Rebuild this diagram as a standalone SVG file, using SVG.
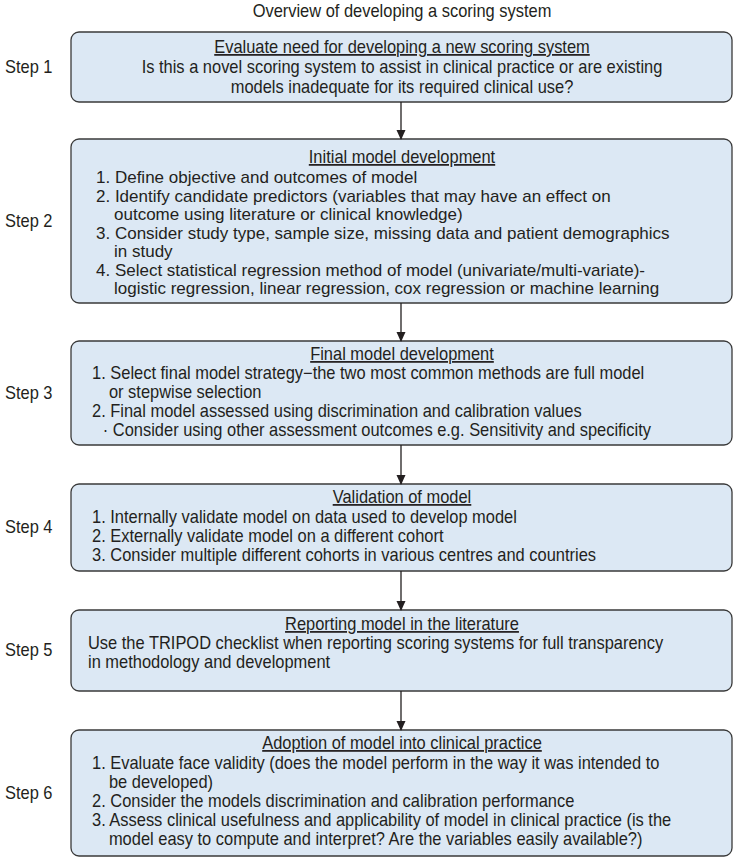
<svg xmlns="http://www.w3.org/2000/svg" width="735" height="860" viewBox="0 0 735 860">
<defs>
<style>
.box{fill:#dce8f4;stroke:#3a3a3a;stroke-width:1.3}
text{font-family:"Liberation Sans",Arial,sans-serif;font-size:17.5px;fill:#231f20}
.c{text-anchor:middle}
.h{text-decoration:underline}
.w{font-size:17px}
.conn{stroke:#231f20;stroke-width:1.3;fill:none}
</style>
<marker id="ah" markerWidth="10" markerHeight="11" refX="9" refY="5" orient="auto" markerUnits="userSpaceOnUse">
<path d="M0,0.5 L10,5 L0,9.5 Z" fill="#231f20"/>
</marker>
</defs>
<rect width="735" height="860" fill="#ffffff"/>
<g transform="matrix(0.94 0 0 1 24.12 0)">
<text class="c" x="402" y="17">Overview of developing a scoring system</text>
</g>

<g id="step1">
<rect class="box" x="71" y="32" width="661" height="70" rx="8"/>
<g transform="matrix(0.94 0 0 1 0.3 0)"><text x="5" y="73">Step 1</text></g>
<g transform="matrix(0.94 0 0 1 24.12 0)">
<text class="c h" x="402" y="53">Evaluate need for developing a new scoring system</text>
<text class="c" x="402" y="73">Is this a novel scoring system to assist in clinical practice or are existing</text>
<text class="c" x="402" y="93">models inadequate for its required clinical use?</text>
</g>
</g>

<g id="step2">
<rect class="box" x="71" y="139" width="661" height="164" rx="8"/>
<g transform="matrix(0.94 0 0 1 0.3 0)"><text x="5" y="227">Step 2</text></g>
<g transform="matrix(0.94 0 0 1 24.12 0)">
<text class="c h" x="402" y="163">Initial model development</text>
</g>
<text class="w" x="96" y="183">1. Define objective and outcomes of model</text>
<text class="w" x="96" y="202">2. Identify candidate predictors (variables that may have an effect on</text>
<text class="w" x="114" y="220">outcome using literature or clinical knowledge)</text>
<text class="w" x="96" y="239">3. Consider study type, sample size, missing data and patient demographics</text>
<text class="w" x="114" y="257">in study</text>
<text class="w" x="96" y="276">4. Select statistical regression method of model (univariate/multi-variate)-</text>
<text class="w" x="114" y="294">logistic regression, linear regression, cox regression or machine learning</text>
</g>

<g id="step3">
<rect class="box" x="71" y="341" width="661" height="104" rx="8"/>
<g transform="matrix(0.94 0 0 1 0.3 0)"><text x="5" y="399">Step 3</text></g>
<g transform="matrix(0.94 0 0 1 24.12 0)">
<text class="c h" x="402" y="360">Final model development</text>
</g>
<g transform="matrix(0.94 0 0 1 5.52 0)">
<text x="92" y="379">1. Select final model strategy−the two most common methods are full model</text>
<text x="110" y="398">or stepwise selection</text>
<text x="92" y="417">2. Final model assessed using discrimination and calibration values</text>
<text x="103.5" y="436">· Consider using other assessment outcomes e.g. Sensitivity and specificity</text>
</g>
</g>

<g id="step4">
<rect class="box" x="71" y="484" width="661" height="87" rx="8"/>
<g transform="matrix(0.94 0 0 1 0.3 0)"><text x="5" y="533">Step 4</text></g>
<g transform="matrix(0.94 0 0 1 24.12 0)">
<text class="c h" x="402" y="503">Validation of model</text>
</g>
<g transform="matrix(0.94 0 0 1 5.52 0)">
<text x="92" y="523">1. Internally validate model on data used to develop model</text>
<text x="92" y="542">2. Externally validate model on a different cohort</text>
<text x="92" y="561">3. Consider multiple different cohorts in various centres and countries</text>
</g>
</g>

<g id="step5">
<rect class="box" x="71" y="610" width="661" height="81" rx="8"/>
<g transform="matrix(0.94 0 0 1 0.3 0)"><text x="5" y="656">Step 5</text></g>
<g transform="matrix(0.94 0 0 1 24.12 0)">
<text class="c h" x="402" y="630">Reporting model in the literature</text>
</g>
<g transform="matrix(0.94 0 0 1 5.28 0)">
<text x="88" y="649">Use the TRIPOD checklist when reporting scoring systems for full transparency</text>
<text x="88" y="668">in methodology and development</text>
</g>
</g>

<g id="step6">
<rect class="box" x="71" y="730" width="661" height="126" rx="8"/>
<g transform="matrix(0.94 0 0 1 0.3 0)"><text x="5" y="799">Step 6</text></g>
<g transform="matrix(0.94 0 0 1 24.12 0)">
<text class="c h" x="402" y="749">Adoption of model into clinical practice</text>
</g>
<g transform="matrix(0.94 0 0 1 5.52 0)">
<text x="92" y="769">1. Evaluate face validity (does the model perform in the way it was intended to</text>
<text x="110" y="788">be developed)</text>
<text x="92" y="807">2. Consider the models discrimination and calibration performance</text>
<text x="92" y="826">3. Assess clinical usefulness and applicability of model in clinical practice (is the</text>
<text x="110" y="845">model easy to compute and interpret? Are the variables easily available?)</text>
</g>
</g>

<g id="connectors">
<line class="conn" x1="401" y1="102" x2="401" y2="139" marker-end="url(#ah)"/>
<line class="conn" x1="401" y1="303" x2="401" y2="341" marker-end="url(#ah)"/>
<line class="conn" x1="401" y1="445" x2="401" y2="484" marker-end="url(#ah)"/>
<line class="conn" x1="401" y1="571" x2="401" y2="610" marker-end="url(#ah)"/>
<line class="conn" x1="401" y1="691" x2="401" y2="730" marker-end="url(#ah)"/>
</g>
</svg>
